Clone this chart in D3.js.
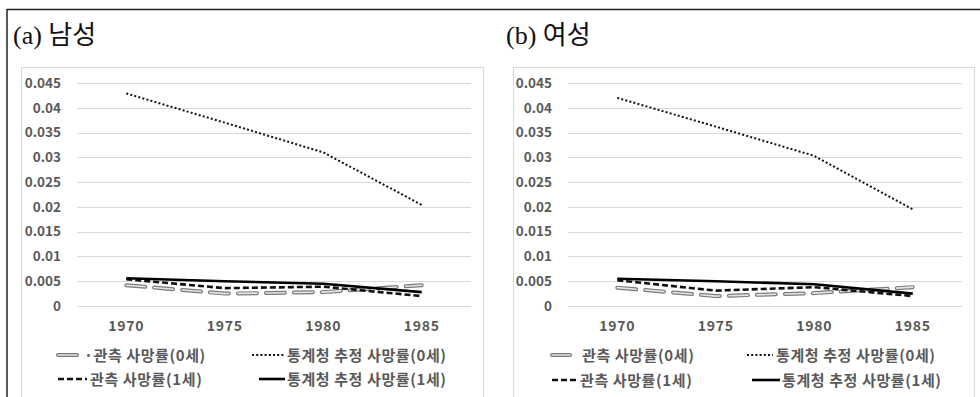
<!DOCTYPE html>
<html>
<head>
<meta charset="utf-8">
<script src="https://cdn.jsdelivr.net/npm/d3@7"></script>
<style>
  body { margin: 0; background: #fff; }
  svg { display: block; }
</style>
</head>
<body>
<div id="chart"></div>
<script>
// data
const years = ["1970", "1975", "1980", "1985"];
const yTicks = [0, 0.005, 0.01, 0.015, 0.02, 0.025, 0.03, 0.035, 0.04, 0.045];
const seriesNames = ["관측 사망률(0세)", "통계청 추정 사망률(0세)", "관측 사망률(1세)", "통계청 추정 사망률(1세)"];

const maleObs0 = [0.0042, 0.0025, 0.0028, 0.0042];
const maleEst0 = [0.0429, 0.0370, 0.0310, 0.0204];
const maleObs1 = [0.0054, 0.0036, 0.0039, 0.0020];
const maleEst1 = [0.0056, 0.0050, 0.0045, 0.0028];

const femaleObs0 = [0.0037, 0.0020, 0.0026, 0.0038];
const femaleEst0 = [0.0420, 0.0362, 0.0303, 0.0195];
const femaleObs1 = [0.0052, 0.0031, 0.0038, 0.0020];
const femaleEst1 = [0.0055, 0.0050, 0.0044, 0.0025];

const W = 980, H = 397;
const svg = d3.select("#chart").append("svg")
  .attr("width", W).attr("height", H);

// outer frame
svg.append("line").attr("x1", 7).attr("x2", W).attr("y1", 9.5).attr("y2", 9.5)
  .attr("stroke", "#222").attr("stroke-width", 1.5);
svg.append("line").attr("x1", 7).attr("x2", 7).attr("y1", 9).attr("y2", H)
  .attr("stroke", "#222").attr("stroke-width", 1.5);

const styles = ["double", "dot", "dash", "solid"];

function drawLine(g, pathD, kind) {
  if (kind === "double") {
    g.append("path").attr("d", pathD).attr("fill", "none")
      .attr("stroke", "#7a7a7a").attr("stroke-width", 4)
      .attr("stroke-dasharray", "19,9").attr("stroke-linecap", "round");
    g.append("path").attr("d", pathD).attr("fill", "none")
      .attr("stroke", "#e6e6e6").attr("stroke-width", 1.6)
      .attr("stroke-dasharray", "19,9").attr("stroke-linecap", "round");
  } else if (kind === "dot") {
    g.append("path").attr("d", pathD).attr("fill", "none")
      .attr("stroke", "#111").attr("stroke-width", 2)
      .attr("stroke-dasharray", "2,2.2");
  } else if (kind === "dash") {
    g.append("path").attr("d", pathD).attr("fill", "none")
      .attr("stroke", "#111").attr("stroke-width", 2.6)
      .attr("stroke-dasharray", "6,3");
  } else {
    g.append("path").attr("d", pathD).attr("fill", "none")
      .attr("stroke", "#000").attr("stroke-width", 2.6);
  }
}

function drawPanel(o) {
  const g = svg.append("g");

  // title
  g.append("text").attr("x", o.titleX).attr("y", 44)
    .attr("font-family", "'Liberation Serif', 'Noto Sans CJK KR', serif")
    .attr("font-size", 26).attr("fill", "#111")
    .text(o.title);

  // chart box
  g.append("rect").attr("x", o.boxL + 0.5).attr("y", 67.5)
    .attr("width", o.boxR - o.boxL).attr("height", 340)
    .attr("fill", "#fff").attr("stroke", "#d9d9d9");

  const x = d3.scaleBand().domain(years).range([o.plotL, o.plotR]).padding(0);
  const y = d3.scaleLinear().domain([0, 0.045]).range([306, 83]);

  // gridlines
  g.append("g").selectAll("line").data(yTicks).join("line")
    .attr("x1", o.plotL).attr("x2", o.plotR)
    .attr("y1", d => Math.round(y(d)) + 0.5).attr("y2", d => Math.round(y(d)) + 0.5)
    .attr("stroke", "#d9d9d9").attr("stroke-width", 1);

  // y axis labels
  const yAxis = g.append("g").attr("transform", `translate(${o.plotL - 13},0)`)
    .call(d3.axisLeft(y).tickValues(yTicks).tickSize(0)
      .tickFormat(d => String(+d.toFixed(3))));
  yAxis.select(".domain").remove();
  yAxis.selectAll("text").attr("font-family", "'Noto Sans CJK KR', sans-serif")
    .attr("font-weight", "bold").attr("font-size", 13.5).attr("fill", "#595959");

  // x axis labels
  const xAxis = g.append("g").attr("transform", "translate(0,318)")
    .call(d3.axisBottom(x).tickSize(0));
  xAxis.select(".domain").remove();
  xAxis.selectAll("text").attr("font-family", "'Noto Sans CJK KR', sans-serif")
    .attr("font-weight", "bold").attr("font-size", 14).attr("fill", "#595959")
    .attr("letter-spacing", 0.8);

  const line = d3.line()
    .x((d, i) => x(years[i]) + x.bandwidth() / 2)
    .y(d => y(d));

  o.series.forEach((s, i) => drawLine(g, line(s), styles[i]));

  // legend
  o.legend.forEach((it, i) => {
    const yy = it.y;
    drawLine(g, `M${it.x1},${yy}L${it.x2},${yy}`, styles[i]);
    g.append("text").attr("x", it.tx).attr("y", yy + 5.5)
      .attr("font-family", "'Noto Sans CJK KR', sans-serif")
      .attr("font-weight", "bold").attr("font-size", 15).attr("fill", "#595959")
      .attr("letter-spacing", 0.6)
      .text(it.label);
  });
}

drawPanel({
  title: "(a) 남성", titleX: 13,
  boxL: 21, boxR: 483, plotL: 77, plotR: 471,
  series: [maleObs0, maleEst0, maleObs1, maleEst1],
  legend: [
    { x1: 58, x2: 80, y: 355, tx: 84, label: "·" + seriesNames[0] },
    { x1: 252, x2: 284, y: 355, tx: 287, label: seriesNames[1] },
    { x1: 58, x2: 87, y: 379, tx: 90, label: seriesNames[2] },
    { x1: 259, x2: 285, y: 379, tx: 287, label: seriesNames[3] }
  ]
});

drawPanel({
  title: "(b) 여성", titleX: 506,
  boxL: 513, boxR: 974, plotL: 568, plotR: 962,
  series: [femaleObs0, femaleEst0, femaleObs1, femaleEst1],
  legend: [
    { x1: 552, x2: 570, y: 355, tx: 582, label: seriesNames[0] },
    { x1: 747, x2: 773, y: 355, tx: 776, label: seriesNames[1] },
    { x1: 552, x2: 577, y: 380, tx: 580, label: seriesNames[2] },
    { x1: 752, x2: 780, y: 380, tx: 782, label: seriesNames[3] }
  ]
});
</script>
</body>
</html>
